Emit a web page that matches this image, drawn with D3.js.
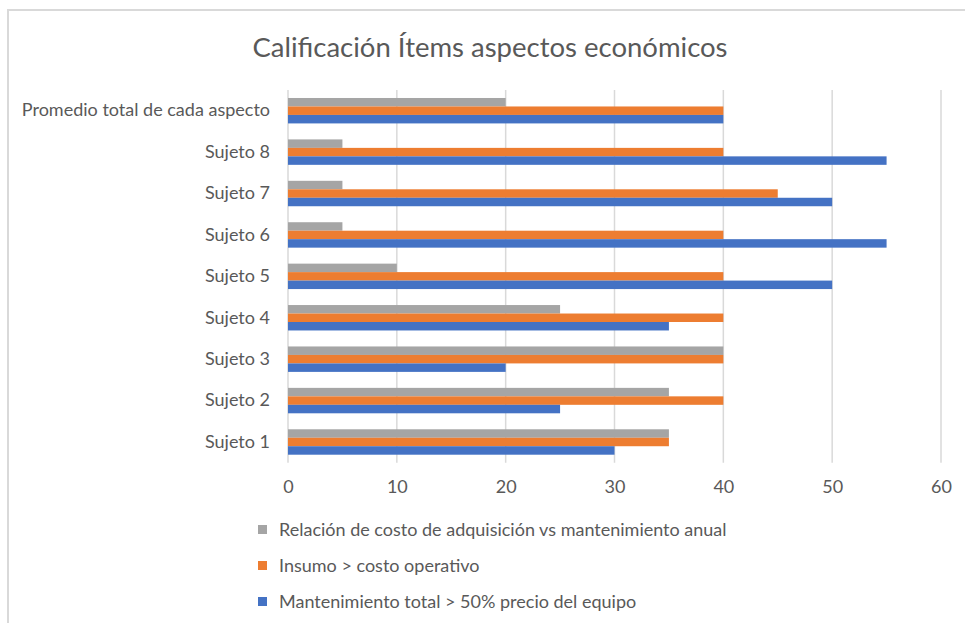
<!DOCTYPE html>
<html>
<head>
<meta charset="utf-8">
<script src="https://cdn.jsdelivr.net/npm/d3@7"></script>
<style>
  html, body { margin: 0; padding: 0; background: #fff; }
  svg { display: block; }
  text { font-family: Lato, "Open Sans", sans-serif; fill: #595959; }
</style>
</head>
<body>
<svg id="chart" width="965" height="623"></svg>
<script>
// Data (top = first)
const categories = ["Promedio total de cada aspecto", "Sujeto 8", "Sujeto 7", "Sujeto 6", "Sujeto 5", "Sujeto 4", "Sujeto 3", "Sujeto 2", "Sujeto 1"];
const seriesNames = ["Relación de costo de adquisición vs mantenimiento anual", "Insumo > costo operativo", "Mantenimiento total > 50% precio del equipo"];
const seriesColors = ["#A5A5A5", "#ED7D31", "#4472C4"];
const relacionValues = [20, 5, 5, 5, 10, 25, 40, 35, 35];
const insumoValues = [40, 40, 45, 40, 40, 40, 40, 40, 35];
const mantenimientoValues = [40, 55, 50, 55, 50, 35, 20, 25, 30];
const xTicks = [0, 10, 20, 30, 40, 50, 60];
const titleText = "Calificación Ítems aspectos económicos";

const seriesValues = [relacionValues, insumoValues, mantenimientoValues];

const svg = d3.select("#chart");

// chart border (cropped frame)
svg.append("line").attr("x1", 7).attr("x2", 965).attr("y1", 10).attr("y2", 10)
  .attr("stroke", "#D9D9D9").attr("stroke-width", 2);
svg.append("line").attr("x1", 8).attr("x2", 8).attr("y1", 9).attr("y2", 623)
  .attr("stroke", "#D9D9D9").attr("stroke-width", 2);

const plotLeft = 288, plotRight = 941, plotTop = 90, plotBottom = 462.7;

const x = d3.scaleLinear().domain([0, 60]).range([plotLeft, plotRight]);
const y = d3.scaleBand().domain(categories).range([plotTop, plotBottom])
  .paddingInner(0.386).paddingOuter(0.193);
const ySub = d3.scaleBand().domain(d3.range(seriesNames.length)).range([0, y.bandwidth()]);

// Title
svg.append("text").attr("x", 490).attr("y", 57).attr("text-anchor", "middle")
  .style("font-size", "27.5px").text(titleText);

// gridlines
svg.append("g").selectAll("line").data(xTicks).join("line")
  .attr("x1", d => x(d)).attr("x2", d => x(d))
  .attr("y1", plotTop).attr("y2", plotBottom)
  .attr("stroke", "#D9D9D9").attr("stroke-width", 1.5);

// bars
const groups = svg.append("g").selectAll("g").data(categories).join("g")
  .attr("transform", c => `translate(0,${y(c)})`);
groups.selectAll("rect").data((c, i) => seriesValues.map((vals, s) => ({ s, v: vals[i] })))
  .join("rect")
  .attr("x", x(0))
  .attr("y", d => ySub(d.s))
  .attr("width", d => x(d.v) - x(0))
  .attr("height", ySub.bandwidth())
  .attr("fill", d => seriesColors[d.s]);

// y labels
const yAxis = d3.axisLeft(y).tickSize(0).tickPadding(0);
const gy = svg.append("g").attr("transform", `translate(${plotLeft - 18},0)`).call(yAxis);
gy.select(".domain").remove();
gy.selectAll("text").style("font-size", "18px").style("font-family", "Lato, sans-serif").attr("fill", "#595959");

// x tick labels
const xAxis = d3.axisBottom(x).tickValues(xTicks).tickSize(0).tickPadding(0);
const gx = svg.append("g").attr("transform", `translate(0,${plotBottom + 18})`).call(xAxis);
gx.select(".domain").remove();
gx.selectAll("text").style("font-size", "18px").style("font-family", "Lato, sans-serif").attr("fill", "#595959");

// legend
const legendY = [530, 566, 602];
const lg = svg.append("g").selectAll("g").data(seriesNames).join("g")
  .attr("transform", (d, i) => `translate(258,${legendY[i]})`);
lg.append("rect").attr("x", 0).attr("y", -5).attr("width", 9).attr("height", 9)
  .attr("fill", (d, i) => seriesColors[i]);
lg.append("text").attr("x", 21).attr("y", 0).attr("dy", "0.35em")
  .style("font-size", "18px").text(d => d);
</script>
</body>
</html>
